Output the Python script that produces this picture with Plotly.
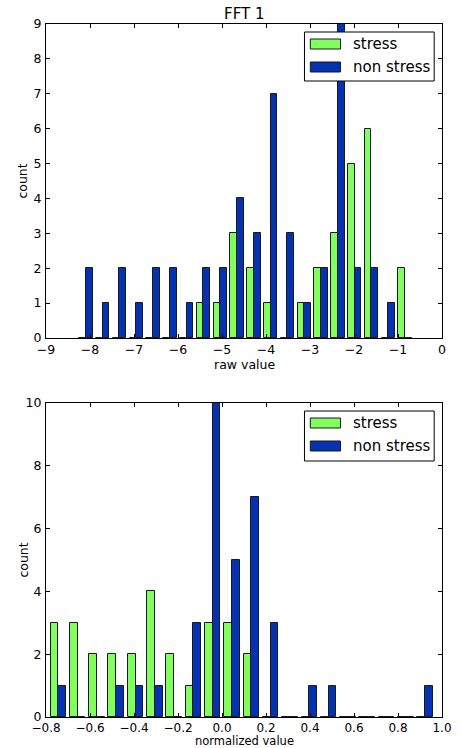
import numpy as np
import plotly.graph_objects as go

# ---------------- data ----------------
series_names = ["stress", "non stress"]

# top panel: raw value histogram (20 bins)
raw_range = [-8.285, -0.649]
raw_stress = [0, 0, 0, 0, 0, 0, 0, 1, 1, 3, 2, 1, 0, 1, 2, 3, 5, 6, 0, 2]
raw_nonstress = [2, 1, 2, 1, 2, 2, 1, 2, 2, 4, 3, 7, 3, 1, 2, 9, 2, 2, 1, 0]

# bottom panel: normalized value histogram (20 bins)
norm_range = [-0.788, 0.967]
norm_stress = [3, 3, 2, 2, 2, 4, 2, 1, 3, 3, 2, 0, 0, 0, 0, 0, 0, 0, 0, 0]
norm_nonstress = [1, 0, 0, 1, 1, 1, 0, 3, 10, 5, 7, 3, 0, 1, 1, 0, 0, 0, 0, 1]

raw_ticks = [-9, -8, -7, -6, -5, -4, -3, -2, -1, 0]
norm_ticks = [-0.8, -0.6, -0.4, -0.2, 0.0, 0.2, 0.4, 0.6, 0.8, 1.0]

# ---------------- style ----------------
GREEN = "#80ff5f"
BLUE = "#0532b0"
FONT = "DejaVu Sans"
W, H = 460, 748
ML, MR, MT, MB = 46, 8, 24, 31
PH = H - MT - MB
FS = 12.5
FL = 15


def py(p):
    """pixel y (from top) -> paper fraction"""
    return (H - MB - p) / PH


def px(p):
    return (p - ML) / (W - ML - MR)


fig = go.Figure()


def add_hist(rng, s_counts, n_counts, xa, ya, show):
    n = len(s_counts)
    edges = np.linspace(rng[0], rng[1], n + 1)
    bw = edges[1] - edges[0]
    centers = (edges[:-1] + edges[1:]) / 2
    for counts, color, name, off in [
        (s_counts, GREEN, series_names[0], -0.4 * bw),
        (n_counts, BLUE, series_names[1], 0.0),
    ]:
        fig.add_trace(go.Bar(
            x=centers, y=counts, width=0.4 * bw, offset=off,
            marker=dict(color=color, line=dict(color="#1a1a1a", width=1)),
            name=name, legendgroup=name, showlegend=show,
            xaxis=xa, yaxis=ya,
        ))


add_hist(raw_range, raw_stress, raw_nonstress, "x", "y", True)
add_hist(norm_range, norm_stress, norm_nonstress, "x2", "y2", True)

axis_common = dict(
    showline=True, linecolor="black", linewidth=1, mirror="ticks",
    ticks="inside", ticklen=4, tickcolor="black", tickwidth=1,
    showgrid=False, zeroline=False,
    tickfont=dict(family=FONT, size=FS, color="black"),
)

top_dom = [py(338), 1.0]
bot_dom = [0.0, py(403)]

fig.update_layout(
    width=W, height=H,
    margin=dict(l=ML, r=MR, t=MT, b=MB),
    paper_bgcolor="white", plot_bgcolor="white",
    barmode="overlay", bargap=0,
    font=dict(family=FONT, color="black"),
    showlegend=False,
    xaxis=dict(axis_common, domain=[0, 1], range=[-9, 0], tickvals=raw_ticks,
               anchor="y"),
    yaxis=dict(axis_common, domain=top_dom, range=[0, 9], dtick=1, anchor="x",
               ticklabelstandoff=1),
    xaxis2=dict(axis_common, domain=[0, 1], range=[-0.8, 1.0],
                tickvals=norm_ticks, tickformat=".1f", anchor="y2",
                tickfont=dict(family=FONT, size=12, color="black")),
    yaxis2=dict(axis_common, domain=bot_dom, range=[0, 10], dtick=2, anchor="x2",
                ticklabelstandoff=1),
)

ann = []
ann.append(dict(text="FFT 1", x=px(249), y=py(14), xref="paper", yref="paper",
                showarrow=False, font=dict(size=FL, family=FONT), xanchor="center", yanchor="middle"))
ann.append(dict(text="raw value", x=px(249), y=py(364), xref="paper", yref="paper",
                showarrow=False, font=dict(size=FS, family=FONT), xanchor="center", yanchor="middle"))
ann.append(dict(text="normalized value", x=px(249), y=py(741.5), xref="paper", yref="paper",
                showarrow=False, font=dict(size=11.5, family=FONT), xanchor="center", yanchor="middle"))
ann.append(dict(text="count", x=px(22), y=py(181), xref="paper", yref="paper", textangle=-90,
                showarrow=False, font=dict(size=FS, family=FONT), xanchor="center", yanchor="middle"))
ann.append(dict(text="count", x=px(22), y=py(560), xref="paper", yref="paper", textangle=-90,
                showarrow=False, font=dict(size=FS, family=FONT), xanchor="center", yanchor="middle"))

# custom legends (matplotlib-like boxes with wide swatches)
shapes = []
for (top, bottom) in [(32, 81), (411, 461)]:
    shapes.append(dict(type="rect", xref="paper", yref="paper",
                       x0=px(311), x1=px(444), y0=py(bottom), y1=py(top),
                       line=dict(color="black", width=1), fillcolor="white", layer="above"))
    for i, (name, color) in enumerate(zip(series_names, [GREEN, BLUE])):
        cy = top + 12 + i * 23
        shapes.append(dict(type="rect", xref="paper", yref="paper",
                           x0=px(317), x1=px(348), y0=py(cy + 5), y1=py(cy - 5),
                           line=dict(color="#1a1a1a", width=1), fillcolor=color, layer="above"))
        ann.append(dict(text=name, x=px(359), y=py(cy), xref="paper", yref="paper",
                        showarrow=False, font=dict(size=FL, family=FONT),
                        xanchor="left", yanchor="middle"))

fig.update_layout(annotations=ann, shapes=shapes)

fig.write_html("out.html", config={"displayModeBar": False},
               post_script="document.body.style.margin='0';document.body.style.overflow='hidden';")
